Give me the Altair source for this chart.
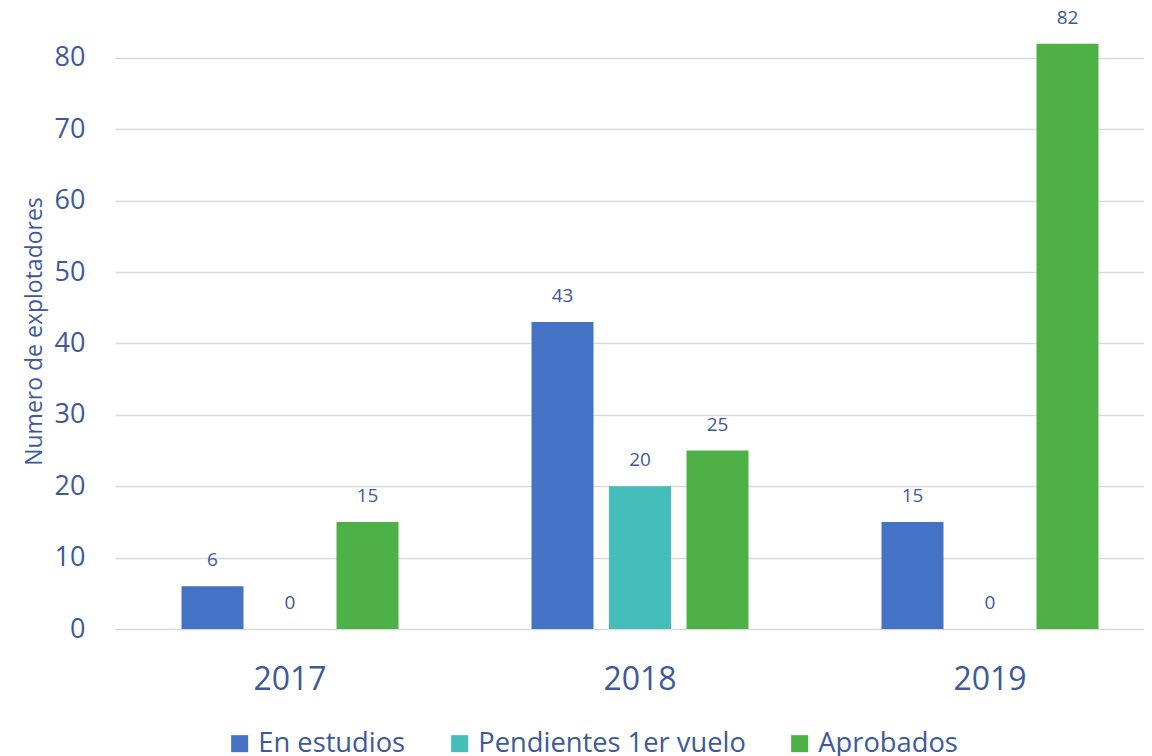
import altair as alt
import pandas as pd

years = ["2017", "2018", "2019"]
series = ["En estudios", "Pendientes 1er vuelo", "Aprobados"]
en_estudios = [6, 43, 15]
pendientes = [0, 20, 0]
aprobados = [15, 25, 82]
colors = ["#4472C4", "#45BDB9", "#4EB148"]
y_ticks = [0, 10, 20, 30, 40, 50, 60, 70, 80]

rows = []
for i, y in enumerate(years):
    for s, vals in zip(series, [en_estudios, pendientes, aprobados]):
        rows.append({"year": y, "series": s, "value": vals[i]})
df = pd.DataFrame(rows)

TXT = "#3C5A9A"
FONT = "Open Sans"

x_enc = alt.X(
    "year:N",
    sort=years,
    scale=alt.Scale(range=[0, 1050], paddingInner=0.38, paddingOuter=0.19),
    axis=alt.Axis(title=None, labelFontSize=32, labelColor=TXT, domain=False,
                  ticks=False, tickSize=0, labelPadding=35, labelAngle=0),
)
xo_enc = alt.XOffset("series:N", sort=series,
                     scale=alt.Scale(paddingInner=0.2, paddingOuter=0))
y_enc = alt.Y(
    "value:Q",
    scale=alt.Scale(domain=[0, 87], nice=False),
    axis=alt.Axis(title="Numero de explotadores", values=y_ticks, labelFontSize=27,
                  labelColor=TXT, titleColor=TXT, titleFontSize=23,
                  titleFontWeight="normal", titlePadding=8, titleY=323,
                  domain=False, ticks=False, tickSize=0, labelPadding=30,
                  grid=True, gridColor="#D9D9D9", gridWidth=1.6),
)

base = alt.Chart(df).encode(x=x_enc, xOffset=xo_enc, y=y_enc)

bars = base.mark_bar().encode(
    color=alt.Color(
        "series:N", sort=series,
        scale=alt.Scale(domain=series, range=colors),
        legend=alt.Legend(title=None, orient="none", legendX=111, legendY=722,
                          direction="horizontal", symbolType="square",
                          symbolSize=289, symbolStrokeWidth=0, labelFontSize=27.3,
                          labelColor=TXT, labelOffset=5, columnPadding=40,
                          labelLimit=500),
    )
)

labels = base.mark_text(dy=-26, fontSize=19, color=TXT, baseline="middle").encode(
    text=alt.Text("value:Q")
)

chart = (
    alt.layer(bars, labels)
    .properties(width=1029, height=621,
                autosize=alt.AutoSizeParams(type="none"),
                padding={"left": 107, "top": 0, "right": 0, "bottom": 127})
    .configure(font=FONT)
    .configure_view(stroke=None)
)

chart.save("out.html", embed_options={"renderer": "svg", "actions": False})
